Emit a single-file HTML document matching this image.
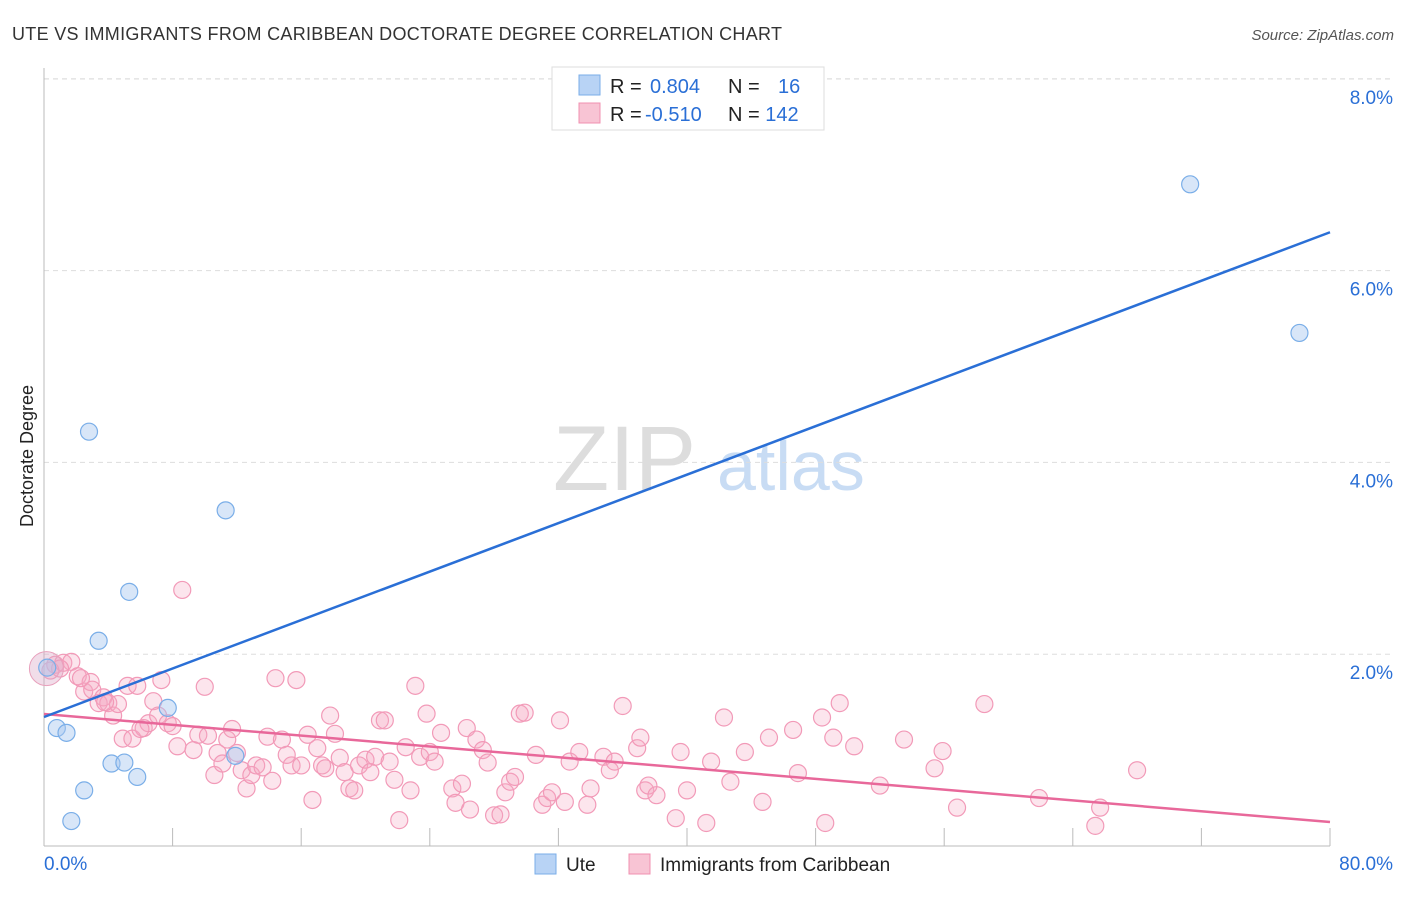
<!DOCTYPE html>
<html><head><meta charset="utf-8"><style>
body{margin:0;background:#fff;font-family:"Liberation Sans",sans-serif}
svg text{font-family:"Liberation Sans",sans-serif}
</style></head><body>
<svg id="c" width="1406" height="892">
<text x="12" y="40" font-size="18" fill="#333" textLength="770">UTE VS IMMIGRANTS FROM CARIBBEAN DOCTORATE DEGREE CORRELATION CHART</text>
<text x="1394" y="40" font-size="15" fill="#555" text-anchor="end" font-style="italic">Source: ZipAtlas.com</text>
<g><text x="553" y="490" font-size="92" fill="#ddd" font-family="Liberation Serif">ZIP</text><text x="717" y="490" font-size="70" fill="#c8dcf4">atlas</text></g>
<g id="grid"></g><g id="axes"></g><g id="lines"></g><g id="pts"></g>
<text transform="translate(33,456) rotate(-90)" font-size="18" fill="#222" text-anchor="middle">Doctorate Degree</text>
<g>
<rect x="552" y="67" width="272" height="63" fill="#fff" stroke="#ddd"/>
<rect x="579" y="75" width="21" height="20" fill="#b8d3f5" stroke="#7aaee8"/>
<rect x="579" y="103" width="21" height="20" fill="#f8c4d4" stroke="#f090b0"/>
<text x="610" y="93" font-size="20" fill="#222">R = <tspan x="650" fill="#2a6fd6">0.804</tspan></text>
<text x="728" y="93" font-size="20" fill="#222">N = <tspan x="778" fill="#2a6fd6">16</tspan></text>
<text x="610" y="121" font-size="20" fill="#222">R = <tspan x="645" fill="#2a6fd6">-0.510</tspan></text>
<text x="728" y="121" font-size="20" fill="#222">N = <tspan fill="#2a6fd6">142</tspan></text>
</g>
<g>
<rect x="535" y="854" width="21" height="20" fill="#b8d3f5" stroke="#7aaee8"/>
<text x="566" y="871" font-size="19" fill="#222">Ute</text>
<rect x="629" y="854" width="21" height="20" fill="#f8c4d4" stroke="#f090b0"/>
<text x="660" y="871" font-size="19" fill="#222">Immigrants from Caribbean</text>
</g>
</svg>
<script>
const yTicks=[2,4,6,8];
const xTickLabels=["0.0%","80.0%"];
const uteX=[2.8,11.3,5.3,3.4,0.2,0.8,1.4,7.7,4.2,5.0,5.8,2.5,1.7,11.9,71.3,78.1];
const uteY=[4.32,3.5,2.65,2.14,1.86,1.23,1.18,1.44,0.86,0.87,0.72,0.58,0.26,0.94,6.9,5.35];
const carX=[0.7,1.2,1.7,2.1,2.5,2.9,3.0,3.4,3.7,4.0,4.3,4.6,4.9,5.2,5.5,5.8,6.2,6.5,6.8,7.1,7.3,7.7,8.0,8.3,8.6,9.3,9.6,10.0,10.2,10.6,10.8,11.1,11.4,11.7,12.0,12.3,12.6,12.9,13.2,13.6,13.9,14.2,14.4,14.8,15.1,15.4,15.7,16.0,16.4,16.7,17.0,17.3,17.5,17.8,18.1,18.4,18.7,19.0,19.3,19.6,20.0,20.3,20.6,20.9,21.2,21.5,21.8,22.1,22.5,22.8,23.1,23.4,23.8,24.0,24.3,24.7,25.4,25.6,26.0,26.3,26.5,26.9,27.3,27.6,28.0,28.4,28.7,29.0,29.3,29.6,29.9,30.6,31.0,31.3,31.6,32.1,32.4,32.7,33.3,33.8,34.0,34.8,35.2,35.5,36.0,36.9,37.1,37.4,37.6,38.1,39.3,39.6,40.0,41.2,41.5,42.3,42.7,43.6,44.7,45.1,46.6,46.9,48.4,48.6,49.1,49.5,50.4,52.0,53.5,55.4,55.9,56.8,58.5,61.9,65.4,65.7,68.0,0.4,1.0,2.3,3.8,6.0];
const carY=[1.89,1.91,1.92,1.77,1.61,1.71,1.63,1.49,1.55,1.49,1.36,1.48,1.12,1.67,1.12,1.67,1.23,1.28,1.51,1.36,1.73,1.28,1.25,1.04,2.67,1.0,1.16,1.66,1.15,0.74,0.97,0.86,1.11,1.22,0.97,0.79,0.6,0.74,0.84,0.82,1.14,0.68,1.75,1.11,0.95,0.84,1.73,0.84,1.16,0.48,1.02,0.84,0.81,1.36,1.17,0.92,0.77,0.6,0.58,0.84,0.9,0.77,0.93,1.31,1.31,0.88,0.69,0.27,1.03,0.58,1.67,0.93,1.38,0.98,0.88,1.18,0.6,0.45,0.65,1.23,0.38,1.11,1.0,0.87,0.32,0.33,0.56,0.67,0.72,1.38,1.39,0.95,0.43,0.5,0.56,1.31,0.46,0.88,0.98,0.43,0.6,0.93,0.79,0.88,1.46,1.02,1.13,0.58,0.63,0.53,0.29,0.98,0.58,0.24,0.88,1.34,0.67,0.98,0.46,1.13,1.21,0.76,1.34,0.24,1.13,1.49,1.04,0.63,1.11,0.81,0.99,0.4,1.48,0.5,0.21,0.4,0.79,1.83,1.85,1.75,1.5,1.22];
const uteLine=[1.345,6.40];
const carLine=[1.376,0.25];
const NS="http://www.w3.org/2000/svg";
const X=v=>44+v/80*1286, Y=v=>846-v*95.9;
function mk(p,t,a){const e=document.createElementNS(NS,t);for(const k in a)e.setAttribute(k,a[k]);document.getElementById(p).appendChild(e);return e;}
yTicks.forEach(t=>{
 const g=mk('grid','line',{x1:44,x2:1394,y1:Y(t),y2:Y(t),stroke:'#ddd','stroke-dasharray':'5,4'});
 
 
 const l=mk('grid','text',{x:1393,y:Y(t)+25,'font-size':19,fill:'#2a6fd6','text-anchor':'end'});l.textContent=t.toFixed(1)+'%';
 
 
});
const tl=mk('grid','line',{x1:44,x2:1394,y1:79,y2:79,stroke:'#ddd','stroke-dasharray':'5,4'});
const ax=mk('axes','line',{x1:44,x2:44,y1:68,y2:846,stroke:'#bbb'});


const bx=mk('axes','line',{x1:44,x2:1330,y1:846,y2:846,stroke:'#bbb'});


for(let i=0;i<=10;i++){const t=mk('axes','line',{x1:X(i*8),x2:X(i*8),y1:828,y2:846,stroke:'#bbb'});}
const xl0=mk('axes','text',{x:44,y:870,'font-size':19,fill:'#2a6fd6'});xl0.textContent=xTickLabels[0];


const xl1=mk('axes','text',{x:1393,y:870,'font-size':19,fill:'#2a6fd6','text-anchor':'end'});xl1.textContent=xTickLabels[1];


carX.forEach((x,i)=>{const c=mk('pts','circle',{cx:X(x),cy:Y(carY[i]),r:8.5,fill:'rgba(246,170,195,0.3)',stroke:'#f29ab8','stroke-width':1.2});
 
 });
const big=mk('pts','circle',{cx:X(0.15),cy:Y(1.85),r:17,fill:'rgba(220,170,200,0.4)',stroke:'#e8a0bc'});


uteX.forEach((x,i)=>{const c=mk('pts','circle',{cx:X(x),cy:Y(uteY[i]),r:8.5,fill:'rgba(168,200,240,0.45)',stroke:'#7aaee8','stroke-width':1.2});
 
 });
const l1=mk('lines','line',{x1:X(0),y1:Y(carLine[0]),x2:X(80),y2:Y(carLine[1]),stroke:'#e8689a','stroke-width':2.5});


const l2=mk('lines','line',{x1:X(0),y1:Y(uteLine[0]),x2:X(80),y2:Y(uteLine[1]),stroke:'#2a6fd6','stroke-width':2.5});


document.getElementById('c').appendChild(document.getElementById('lines'));
</script>
</body></html>
